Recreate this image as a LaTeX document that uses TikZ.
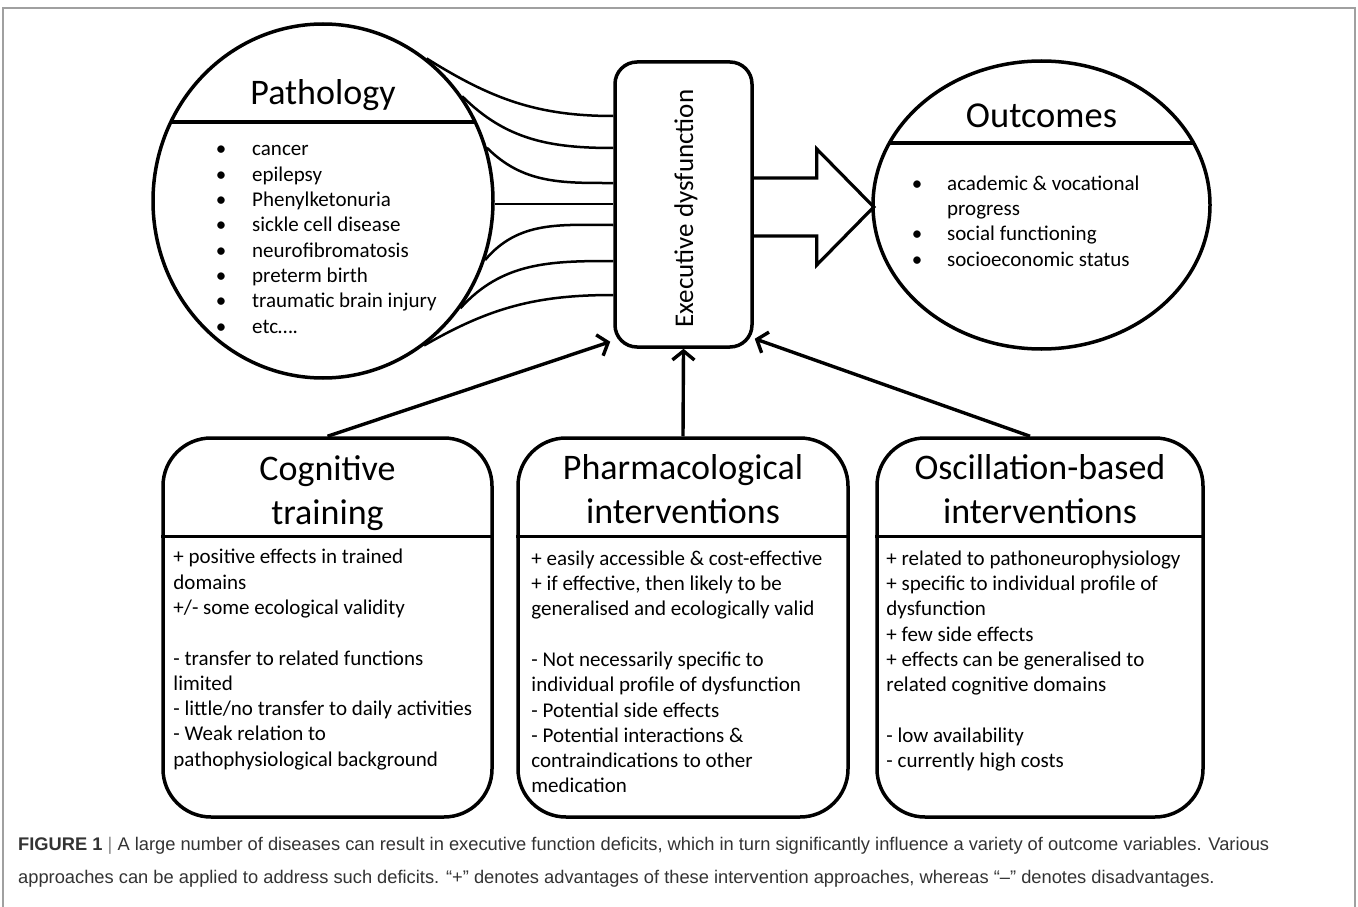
\documentclass[tikz,border=0pt]{standalone}
\usepackage{fontspec}
\setmainfont{Carlito}
\newfontfamily\capfont{Liberation Sans}
\usetikzlibrary{arrows.meta,shapes.geometric}
\definecolor{capgray}{HTML}{333333}
\definecolor{bargray}{HTML}{888888}
\definecolor{framegray}{HTML}{A0A0A0}
\begin{document}
\begin{tikzpicture}[x=1pt,y=-1pt,
  outl/.style={draw, line width=3.5pt},
  conn/.style={line width=2.5pt},
  barb/.style={line width=3.4pt, -{Straight Barb[length=9pt,width=22pt]}},
  ttl/.style={font=\fontsize{36}{44}\selectfont, align=center, inner sep=0, anchor=base},
  bodytxt/.style={font=\fontsize{21}{25.3}\selectfont, align=left, inner sep=0, anchor=base west},
  bul/.style={font=\fontsize{21}{25.3}\selectfont, align=center, inner sep=0, anchor=base},
  bigbox/.style={outl, rounded corners=48pt, minimum height=379pt, inner sep=0},
  captxt/.style={font=\capfont\fontsize{18.3}{20}\selectfont, text=capgray, inner sep=0, anchor=base west}
]
\useasboundingbox (0,0) rectangle (1358,907);
\fill[white] (0,0) rectangle (1358,907);
% frame
\draw[framegray, line width=1.2pt] (3,907) -- (3,8) -- (1355,8) -- (1355,907);

% Pathology
\node[outl, ellipse, minimum width=340pt, minimum height=354pt, inner sep=0] (path) at (323,201) {};
\begin{scope}
  \clip (path.center) ellipse [x radius=170, y radius=177];
  \draw[line width=3.5pt] ([yshift=79pt]path.west) -- ([yshift=79pt]path.east);
\end{scope}
\node[ttl] (pathT) at ([yshift=97pt]path.center) {Pathology};
\node[bul] (pathB) at ([xshift=-102pt,yshift=-132pt]path.center) {•\\•\\•\\•\\•\\•\\•\\•};
\node[bodytxt] (pathL) at ([xshift=-71pt,yshift=-132pt]path.center) {cancer\\epilepsy\\Phenylketonuria\\sickle cell disease\\neurofibromatosis\\preterm birth\\traumatic brain injury\\etc\ldots.};

% Executive dysfunction
\node[outl, rounded corners=22pt, minimum width=137pt, minimum height=285pt, inner sep=0] (exec) at (683.5,204.5) {};
\node[rotate=90, anchor=base, inner sep=0, font=\fontsize{27}{32}\selectfont] (execT) at ([xshift=9.5pt,yshift=-4pt]exec.center) {Executive dysfunction};

% connectors pathology -> exec
\draw[conn] (path.54.5) to[out=-32,in=180] ([yshift=88.5pt]exec.west);
\draw[conn] (path.37.2) to[out=-45,in=180] ([yshift=56.5pt]exec.west);
\draw[conn] (path.18.4) to[out=-45,in=180] ([yshift=21.5pt]exec.west);
\draw[conn] (path.-1) -- (path.-1 -| exec.west);
\draw[conn] (path.-20.4) to[out=50,in=180] ([yshift=-20.5pt]exec.west);
\draw[conn] (path.-38.9) to[out=48,in=180] ([yshift=-56.5pt]exec.west);
\draw[conn] (path.-55) to[out=30,in=180] ([yshift=-90.5pt]exec.west);

% Fat arrow
\coordinate (fa) at ([yshift=-2.5pt]exec.east);
\draw[line width=3.2pt, line join=miter] ([yshift=29pt]fa) -- ++(63,0) -- ++(0,-29) -- ++(57,58) -- ++(-57,58) -- ++(0,-29) -- ++(-63,0);

% Outcomes
\node[outl, ellipse, minimum width=337pt, minimum height=288pt, inner sep=0] (out) at (1041.5,205) {};
\begin{scope}
  \clip (out.center) ellipse [x radius=168.5, y radius=144];
  \draw[line width=3.5pt] ([yshift=62pt]out.west) -- ([yshift=62pt]out.east);
\end{scope}
\node[ttl, font=\fontsize{36.5}{44}\selectfont] (outT) at ([yshift=77pt]out.center) {Outcomes};
\node[bul] (outB) at ([xshift=-124.5pt,yshift=-61pt]out.center) {•\\[25.3pt]•\\•};
\node[bodytxt] (outL) at ([xshift=-94.5pt,yshift=-61pt]out.center) {academic \& vocational\\progress\\social functioning\\socioeconomic status};

% Bottom boxes
\node[bigbox, minimum width=329pt] (cog) at (327.5,627.5) {};
\node[bigbox, minimum width=330pt] (pharm) at (683,627.5) {};
\node[bigbox, minimum width=326pt] (osc) at (1040,627.5) {};
\foreach \b in {cog,pharm,osc}
  \draw[line width=3.5pt] ([yshift=-100pt]\b.north west) -- ([yshift=-100pt]\b.north east);

\node[ttl] (cogT) at ([yshift=-88pt]cog.north) {Cognitive\\training};
\node[ttl] (pharmT) at ([yshift=-87pt]pharm.north) {Pharmacological\\interventions};
\node[ttl] (oscT) at ([yshift=-87pt]osc.north) {Oscillation-based\\interventions};

\node[bodytxt] (cogL) at ([xshift=12pt,yshift=-330pt]cog.north west) {+ positive effects in trained\\domains\\+/- some ecological validity\\[25.3pt]- transfer to related functions\\limited\\- little/no transfer to daily activities\\- Weak relation to\\pathophysiological background};
\node[bodytxt] (pharmL) at ([xshift=15pt,yshift=-356.7pt]pharm.north west) {+ easily accessible \& cost-effective\\+ if effective, then likely to be\\generalised and ecologically valid\\[25.3pt]- Not necessarily specific to\\individual profile of dysfunction\\- Potential side effects\\- Potential interactions \&\\contraindications to other\\medication};
\node[bodytxt] (oscL) at ([xshift=11pt,yshift=-331.4pt]osc.north west) {+ related to pathoneurophysiology\\+ specific to individual profile of\\dysfunction\\+ few side effects\\+ effects can be generalised to\\related cognitive domains\\[25.3pt]- low availability\\- currently high costs};

% arrows into exec
\draw[barb] (cog.north) -- ([xshift=-3pt,yshift=7pt]exec.south west);
\draw[barb] (pharm.north) -- (exec.south);
\draw[barb] ([xshift=-10pt]osc.north) -- ([xshift=1pt,yshift=10pt]exec.south east);

% caption
\node[captxt] (cap1) at (18,850) {\textbf{FIGURE 1} {\color{bargray}|} A large number of diseases can result in executive function deficits, which in turn significantly influence a variety of outcome variables. Various};
\node[captxt] (cap2) at (18,883) {approaches can be applied to address such deficits. “+” denotes advantages of these intervention approaches, whereas “–” denotes disadvantages.};
\end{tikzpicture}
\end{document}
